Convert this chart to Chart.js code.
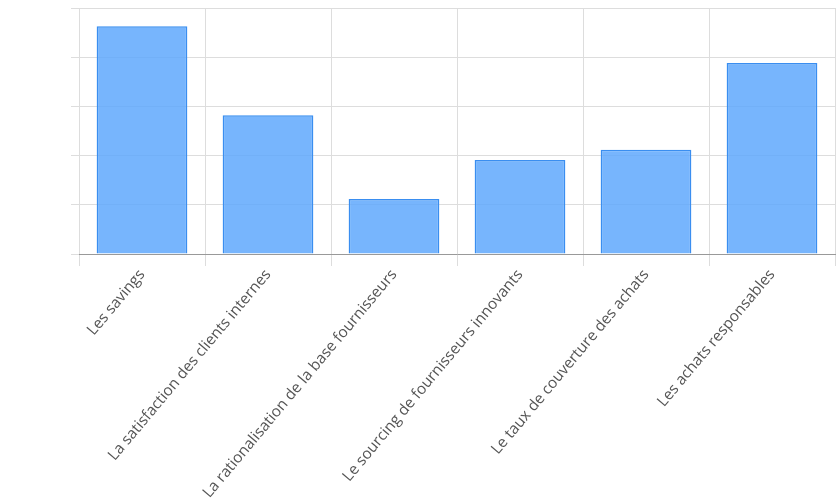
<!DOCTYPE html>
<html><head><meta charset="utf-8">
<script src="https://cdn.jsdelivr.net/npm/chart.js@4/dist/chart.umd.min.js"></script>
<style>html,body{margin:0;padding:0;background:#fff}#w{width:838px;height:500px}</style>
</head><body><div id="w"><canvas id="c"></canvas></div>
<script>
const categories = ["Les savings","La satisfaction des clients internes","La rationalisation de la base fournisseurs","Le sourcing de fournisseurs innovants","Le taux de couverture des achats","Les achats responsables"];
const values = [4.63, 2.82, 1.12, 1.91, 2.12, 3.88];
new Chart(document.getElementById('c'), {
  type: 'bar',
  data: { labels: categories, datasets: [{ data: values, backgroundColor: 'rgba(95,168,253,0.85)', borderColor: '#3a8ef0', borderWidth: 1.5, barPercentage: 0.72, categoryPercentage: 1 }] },
  options: {
    responsive: true, maintainAspectRatio: false, animation: false,
    layout: { padding: { left: 71, right: 3, top: 8, bottom: 0 } },
    plugins: { legend: { display: false }, tooltip: { enabled: false } },
    scales: {
      x: { grid: { color: '#ddd', offset: true, tickLength: 12 }, border: { color: '#999' },
           ticks: { color: '#555', font: { family: 'Open Sans', size: 15.3 }, maxRotation: 50, minRotation: 50, padding: 0 } },
      y: { min: 0, max: 5, grid: { color: '#ddd', tickLength: 8 }, border: { display: false },
           ticks: { stepSize: 1, display: false } }
    }
  }
});
</script></body></html>
